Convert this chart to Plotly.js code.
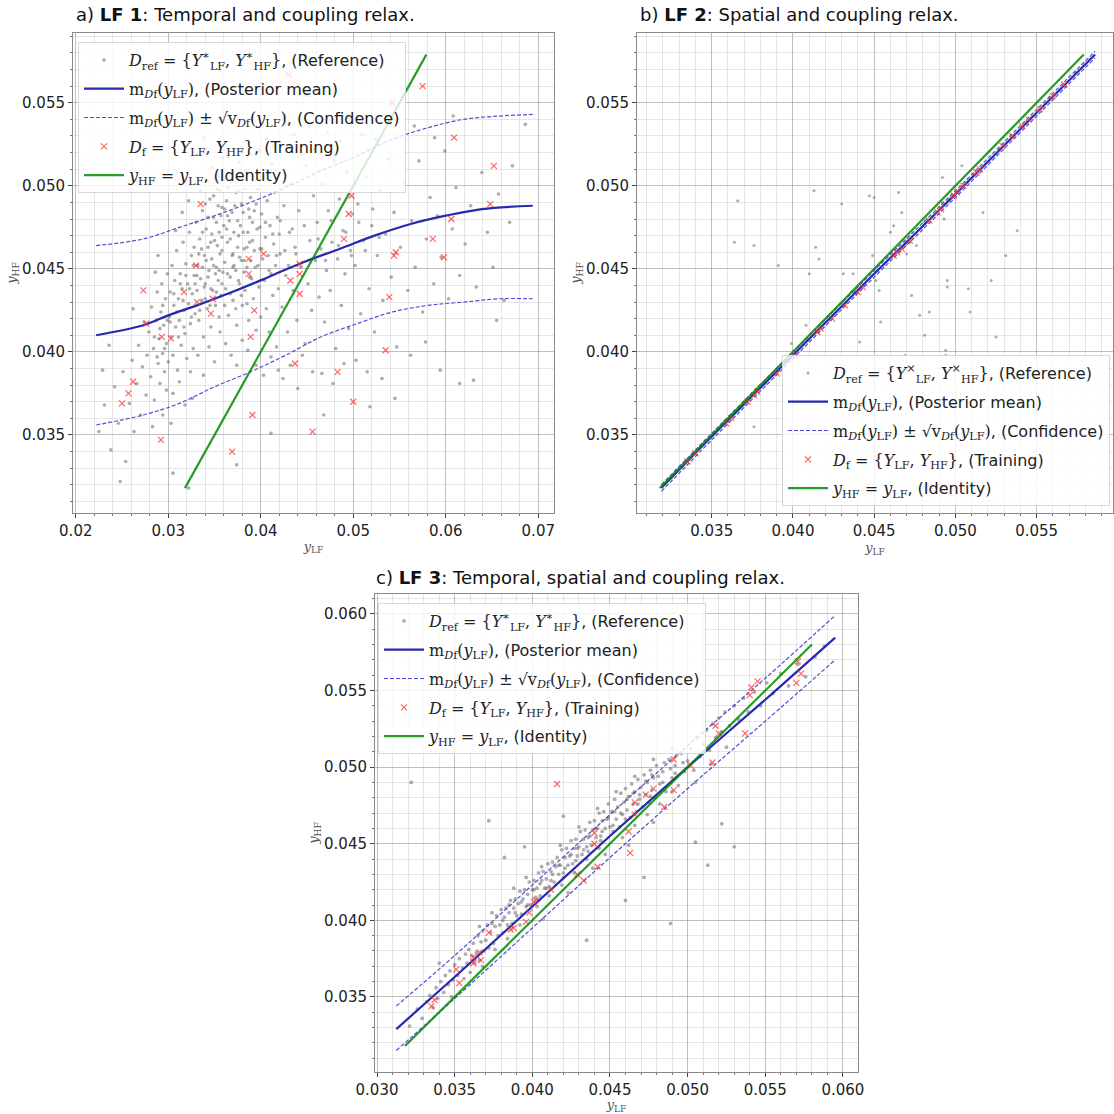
<!DOCTYPE html>
<html>
<head>
<meta charset="utf-8">
<script src="https://cdn.plot.ly/plotly-3.0.1.min.js"></script>
<style>html,body{margin:0;padding:0;background:#fff;}#chart{width:1114px;height:1114px;}</style>
</head>
<body>
<div id="chart"></div>
<script>
// ---------------- Panel a) LF 1 ----------------
const refA = [
[0.0225,0.0352],[0.0231,0.0368],[0.0238,0.0341],[0.0242,0.0379],[0.0246,0.0357],[0.0251,0.0388],[0.0254,0.0334],[0.0258,0.0369],[0.0261,0.0395],[0.0263,0.0352],[0.0266,0.0381],[0.0268,0.0404],[0.0270,0.0362],[0.0272,0.0391],[0.0274,0.0418],[0.0276,0.0374],[0.0236,0.0404],[0.0248,0.0322],[0.0229,0.0389],[0.0262,0.0426],
[0.0277,0.0398],[0.0279,0.0412],[0.0281,0.0385],[0.0282,0.0427],[0.0284,0.0402],[0.0285,0.0371],[0.0287,0.0419],[0.0288,0.0436],[0.0289,0.0393],[0.0290,0.0408],[0.0291,0.0381],[0.0292,0.0424],[0.0293,0.0441],[0.0294,0.0399],[0.0295,0.0416],[0.0296,0.0388],[0.0297,0.0432],[0.0298,0.0405],[0.0299,0.0447],[0.0300,0.0394],[0.0283,0.0355],[0.0286,0.0448],[0.0294,0.0362],[0.0298,0.0377],[0.0289,0.0458],
[0.0301,0.0421],[0.0302,0.0436],[0.0303,0.0409],[0.0304,0.0452],[0.0305,0.0398],[0.0306,0.0428],[0.0307,0.0443],[0.0308,0.0415],[0.0309,0.0461],[0.0310,0.0389],[0.0311,0.0432],[0.0312,0.0419],[0.0313,0.0447],[0.0314,0.0404],[0.0315,0.0438],[0.0316,0.0466],[0.0317,0.0425],[0.0318,0.0411],[0.0319,0.0453],[0.0320,0.0396],[0.0321,0.0441],[0.0322,0.0429],[0.0323,0.0472],[0.0324,0.0417],[0.0325,0.0458],[0.0326,0.0435],[0.0327,0.0402],[0.0328,0.0446],[0.0329,0.0423],[0.0330,0.0478],[0.0305,0.0375],[0.0312,0.0382],[0.0318,0.0368],[0.0324,0.0388],[0.0308,0.0473],[0.0315,0.0484],[0.0322,0.0491],[0.0328,0.0463],[0.0303,0.0357],[0.0326,0.0372],
[0.0331,0.0437],[0.0332,0.0452],[0.0333,0.0419],[0.0334,0.0468],[0.0335,0.0444],[0.0336,0.0431],[0.0337,0.0485],[0.0338,0.0409],[0.0339,0.0458],[0.0340,0.0441],[0.0341,0.0474],[0.0342,0.0426],[0.0343,0.0463],[0.0344,0.0449],[0.0345,0.0492],[0.0346,0.0415],[0.0347,0.0456],[0.0348,0.0437],[0.0349,0.0481],[0.0350,0.0467],[0.0351,0.0428],[0.0352,0.0451],[0.0353,0.0498],[0.0354,0.0443],[0.0355,0.0472],[0.0356,0.0459],[0.0357,0.0434],[0.0358,0.0487],[0.0359,0.0448],[0.0360,0.0476],[0.0332,0.0398],[0.0338,0.0386],[0.0344,0.0403],[0.0350,0.0394],[0.0356,0.0412],[0.0335,0.0497],[0.0342,0.0503],[0.0348,0.0511],[0.0354,0.0506],[0.0359,0.0517],[0.0336,0.0462],[0.0341,0.0455],[0.0347,0.0471],[0.0353,0.0464],[0.0357,0.0482],[0.0339,0.0439],[0.0345,0.0428],[0.0351,0.0447],[0.0355,0.0421],[0.0358,0.0469],
[0.0361,0.0454],[0.0362,0.0438],[0.0363,0.0491],[0.0364,0.0466],[0.0365,0.0422],[0.0366,0.0479],[0.0367,0.0445],[0.0368,0.0503],[0.0369,0.0458],[0.0370,0.0431],[0.0371,0.0472],[0.0372,0.0488],[0.0373,0.0449],[0.0374,0.0416],[0.0375,0.0463],[0.0376,0.0497],[0.0377,0.0441],[0.0378,0.0476],[0.0379,0.0455],[0.0380,0.0428],[0.0381,0.0484],[0.0382,0.0462],[0.0383,0.0437],[0.0384,0.0509],[0.0385,0.0451],[0.0386,0.0472],[0.0387,0.0419],[0.0388,0.0466],[0.0389,0.0493],[0.0390,0.0444],[0.0362,0.0405],[0.0368,0.0398],[0.0374,0.0392],[0.0380,0.0407],[0.0386,0.0401],[0.0365,0.0517],[0.0371,0.0522],[0.0377,0.0514],[0.0383,0.0527],[0.0389,0.0519],[0.0364,0.0482],[0.0370,0.0459],[0.0376,0.0470],[0.0382,0.0448],[0.0388,0.0481],
[0.0391,0.0467],[0.0392,0.0432],[0.0393,0.0485],[0.0394,0.0451],[0.0395,0.0413],[0.0396,0.0474],[0.0397,0.0498],[0.0398,0.0439],[0.0399,0.0462],[0.0400,0.0421],[0.0401,0.0483],[0.0402,0.0456],[0.0403,0.0505],[0.0404,0.0443],[0.0405,0.0469],[0.0406,0.0426],[0.0407,0.0491],[0.0408,0.0458],[0.0409,0.0412],[0.0410,0.0476],[0.0411,0.0447],[0.0412,0.0513],[0.0413,0.0434],[0.0414,0.0465],[0.0415,0.0496],[0.0416,0.0452],[0.0417,0.0403],[0.0418,0.0481],[0.0419,0.0438],[0.0420,0.0471],[0.0395,0.0392],[0.0403,0.0386],[0.0411,0.0397],[0.0419,0.0389],[0.0398,0.0521],[0.0406,0.0528],[0.0414,0.0524],
[0.0421,0.0459],[0.0423,0.0427],[0.0425,0.0488],[0.0427,0.0446],[0.0429,0.0412],[0.0431,0.0472],[0.0433,0.0501],[0.0435,0.0437],[0.0437,0.0463],[0.0439,0.0419],[0.0441,0.0485],[0.0443,0.0451],[0.0445,0.0398],[0.0447,0.0476],[0.0449,0.0512],[0.0451,0.0441],[0.0453,0.0467],[0.0455,0.0425],[0.0457,0.0494],[0.0459,0.0455],[0.0424,0.0384],[0.0432,0.0392],[0.0440,0.0378],[0.0448,0.0405],[0.0456,0.0388],[0.0428,0.0523],[0.0436,0.0531],[0.0444,0.0519],[0.0452,0.0536],[0.0458,0.0522],
[0.0461,0.0478],[0.0463,0.0433],[0.0465,0.0462],[0.0467,0.0501],[0.0469,0.0418],[0.0471,0.0449],[0.0473,0.0485],[0.0475,0.0437],[0.0477,0.0466],[0.0479,0.0515],[0.0481,0.0402],[0.0483,0.0456],[0.0485,0.0492],[0.0487,0.0428],[0.0489,0.0473],[0.0491,0.0447],[0.0493,0.0508],[0.0495,0.0414],[0.0497,0.0461],[0.0499,0.0483],[0.0466,0.0387],[0.0478,0.0381],[0.0490,0.0393],[0.0472,0.0532],[0.0486,0.0527],[0.0496,0.0541],
[0.0502,0.0452],[0.0505,0.0489],[0.0508,0.0423],[0.0511,0.0467],[0.0514,0.0505],[0.0517,0.0438],[0.0520,0.0476],[0.0523,0.0412],[0.0526,0.0458],[0.0529,0.0497],[0.0532,0.0431],[0.0535,0.0471],[0.0538,0.0516],[0.0541,0.0445],[0.0544,0.0484],[0.0547,0.0403],[0.0503,0.0395],[0.0515,0.0388],[0.0531,0.0384],[0.0509,0.0531],[0.0524,0.0528],[0.0539,0.0538],[0.0518,0.0367],[0.0545,0.0372],
[0.0551,0.0463],[0.0555,0.0502],[0.0559,0.0437],[0.0563,0.0479],[0.0567,0.0451],[0.0571,0.0515],[0.0575,0.0424],[0.0579,0.0468],[0.0583,0.0493],[0.0587,0.0441],[0.0591,0.0482],[0.0595,0.0457],[0.0599,0.0521],[0.0603,0.0432],[0.0607,0.0474],[0.0611,0.0499],[0.0615,0.0446],[0.0562,0.0398],[0.0578,0.0406],[0.0594,0.0389],[0.0566,0.0536],[0.0588,0.0529],[0.0608,0.0542],
[0.0621,0.0465],[0.0627,0.0488],[0.0633,0.0439],[0.0639,0.0508],[0.0645,0.0472],[0.0651,0.0451],[0.0657,0.0495],[0.0663,0.0431],[0.0669,0.0478],[0.0686,0.0537],[0.0672,0.0512],[0.0655,0.0419],[0.0630,0.0383],
[0.0305,0.0327],[0.0322,0.0318],[0.0374,0.0332],[0.0411,0.0351],[0.0615,0.0381],[0.0468,0.0362],[0.0427,0.0542],[0.0338,0.0529],
[0.0333,0.0459],[0.0337,0.0472],[0.0340,0.0489],[0.0343,0.0481],[0.0346,0.0466],[0.0349,0.0494],[0.0352,0.0478],[0.0354,0.0488],[0.0356,0.0497],[0.0358,0.0461],[0.0361,0.0486],[0.0363,0.0474],[0.0365,0.0499],[0.0367,0.0468],[0.0369,0.0484],[0.0371,0.0452],[0.0373,0.0496],[0.0375,0.0479],[0.0377,0.0457],[0.0379,0.0489],[0.0381,0.0472],[0.0383,0.0498],[0.0385,0.0463],[0.0387,0.0486],[0.0389,0.0455],[0.0391,0.0478],[0.0393,0.0461],[0.0395,0.0489],[0.0397,0.0452],[0.0399,0.0475],
[0.0331,0.0446],[0.0334,0.0425],[0.0337,0.0451],[0.0340,0.0432],[0.0343,0.0445],[0.0346,0.0438],[0.0349,0.0452],[0.0352,0.0436],[0.0355,0.0449],[0.0358,0.0441],[0.0361,0.0428],[0.0364,0.0447],[0.0367,0.0435],[0.0370,0.0451],[0.0373,0.0426],[0.0376,0.0443],[0.0379,0.0434],[0.0382,0.0455],[0.0385,0.0429],[0.0388,0.0445],
[0.0302,0.0418],[0.0306,0.0435],[0.0309,0.0424],[0.0313,0.0441],[0.0316,0.0431],[0.0319,0.0446],[0.0323,0.0438],[0.0327,0.0452],[0.0329,0.0441],[0.0311,0.0409],[0.0317,0.0415],[0.0325,0.0421],
[0.0291,0.0414],[0.0294,0.0428],[0.0296,0.0402],[0.0299,0.0419],[0.0285,0.0409],[0.0288,0.0397],
[0.0401,0.0462],[0.0405,0.0478],[0.0409,0.0449],[0.0413,0.0471],[0.0417,0.0458],[0.0421,0.0479],[0.0426,0.0461],[0.0430,0.0452],[0.0434,0.0474],[0.0438,0.0459],
[0.0462,0.0468],[0.0470,0.0455],[0.0476,0.0479],[0.0484,0.0464],[0.0492,0.0472],[0.0498,0.0458],[0.0506,0.0478],[0.0513,0.0461],[0.0521,0.0486],[0.0528,0.0469]
];
const meanA_x = [0.0222,0.0273,0.0300,0.0331,0.0369,0.0408,0.0446,0.0485,0.0523,0.0562,0.0600,0.0639,0.0694];
const meanA_y = [0.0410,0.0416,0.0422,0.0428,0.0436,0.0445,0.0454,0.0462,0.0470,0.0477,0.0482,0.0486,0.0488];
const upA_x   = [0.0222,0.0273,0.0312,0.0350,0.0389,0.0427,0.0465,0.0504,0.0542,0.0581,0.0619,0.0658,0.0694];
const upA_y   = [0.0464,0.0468,0.0475,0.0482,0.0490,0.0499,0.0509,0.0518,0.0528,0.0535,0.0540,0.0542,0.0543];
const loA_x   = [0.0222,0.0273,0.0312,0.0350,0.0389,0.0427,0.0465,0.0504,0.0542,0.0581,0.0619,0.0658,0.0694];
const loA_y   = [0.0356,0.0362,0.0369,0.0379,0.0388,0.0398,0.0409,0.0417,0.0424,0.0428,0.0430,0.0432,0.0432];
const trainA = [
[0.0575,0.0560],[0.0609,0.0529],[0.0652,0.0512],[0.0648,0.0489],[0.0606,0.0480],[0.0586,0.0468],[0.0598,0.0457],[0.0546,0.0460],[0.0544,0.0458],[0.0539,0.0433],[0.0535,0.0401],[0.0500,0.0370],[0.0483,0.0388],[0.0456,0.0352],[0.0498,0.0494],[0.0495,0.0483],[0.0490,0.0468],[0.0442,0.0453],[0.0442,0.0447],[0.0442,0.0435],[0.0432,0.0443],[0.0437,0.0393],[0.0403,0.0459],[0.0387,0.0456],[0.0387,0.0447],[0.0393,0.0425],[0.0389,0.0409],[0.0391,0.0362],[0.0369,0.0340],[0.0335,0.0489],[0.0330,0.0452],[0.0317,0.0436],[0.0331,0.0430],[0.0348,0.0432],[0.0346,0.0423],[0.0273,0.0437],[0.0276,0.0417],[0.0293,0.0409],[0.0303,0.0408],[0.0262,0.0382],[0.0257,0.0375],[0.0250,0.0369],[0.0292,0.0347],[0.0430,0.0567],[0.0449,0.0555],[0.0542,0.0550],[0.0352,0.0503]
];
const identA = [0.0318,0.0579];

// ---------------- Panel b) LF 2 ----------------
const refB = [
[0.0366,0.0491],[0.0364,0.0466],[0.0376,0.0464],[0.0391,0.0452],[0.0413,0.0497],[0.0414,0.0463],[0.0416,0.0456],[0.0410,0.0447],[0.0430,0.0489],[0.0431,0.0447],[0.0437,0.0447],[0.0436,0.0436],[0.0447,0.0494],[0.0450,0.0493],[0.0449,0.0458],[0.0451,0.0443],[0.0453,0.0437],[0.0460,0.0472],[0.0462,0.0476],[0.0465,0.0496],[0.0467,0.0484],[0.0469,0.0464],[0.0470,0.0459],[0.0472,0.0466],[0.0476,0.0464],[0.0473,0.0434],[0.0478,0.0422],[0.0481,0.0410],[0.0484,0.0424],[0.0492,0.0505],[0.0492,0.0490],[0.0493,0.0480],[0.0495,0.0443],[0.0495,0.0439],[0.0504,0.0512],[0.0508,0.0438],[0.0509,0.0424],[0.0517,0.0484],[0.0522,0.0443],[0.0525,0.0409],[0.0531,0.0458],[0.0538,0.0473],[0.0494,0.0401],[0.0469,0.0398],[0.0441,0.0406],[0.0408,0.0416],[0.0376,0.0355],[0.0399,0.0405],[0.0454,0.0418],[0.0494,0.0398],
[0.0325,0.0324],[0.0338,0.0338],[0.0351,0.0350],[0.0367,0.0366],[0.0383,0.0381],[0.0396,0.0394],[0.0409,0.0407],[0.0427,0.0424],[0.0438,0.0436],[0.0452,0.0449],[0.0469,0.0466],[0.0481,0.0478],[0.0496,0.0492],[0.0511,0.0507],[0.0527,0.0522],[0.0544,0.0539],[0.0558,0.0553],[0.0574,0.0568]
];
const meanB_x = [0.0319,0.0350,0.0400,0.0450,0.0500,0.0550,0.0586];
const meanB_y = [0.0318,0.0349,0.0398,0.0447,0.0495,0.0544,0.0579];
const upB_y   = [0.0320,0.0351,0.0400,0.0449,0.0497,0.0546,0.0581];
const loB_y   = [0.0316,0.0347,0.0396,0.0445,0.0493,0.0542,0.0577];
const trainB = [
[0.0335,0.0334],[0.0340,0.0339],[0.0359,0.0357],[0.0362,0.0360],[0.0372,0.0370],[0.0376,0.0374],[0.0378,0.0376],[0.0390,0.0387],[0.0401,0.0398],[0.0415,0.0412],[0.0417,0.0414],[0.0424,0.0420],[0.0432,0.0428],[0.0440,0.0436],[0.0443,0.0439],[0.0462,0.0458],[0.0464,0.0460],[0.0467,0.0462],[0.0472,0.0467],[0.0484,0.0479],[0.0489,0.0484],[0.0491,0.0486],[0.0499,0.0494],[0.0501,0.0496],[0.0505,0.0500],[0.0513,0.0508],[0.0515,0.0510],[0.0529,0.0524],[0.0535,0.0530],[0.0541,0.0536],[0.0545,0.0540],[0.0552,0.0546],[0.0560,0.0554],[0.0567,0.0561]
];
const identB = [0.0318,0.0579];

// ---------------- Panel c) LF 3 ----------------
const refC = [
[0.0321,0.0331],[0.0326,0.0342],[0.0329,0.0336],[0.0332,0.0347],[0.0334,0.0351],[0.0336,0.0343],[0.0338,0.0356],[0.0339,0.0349],[0.0341,0.0360],[0.0343,0.0353],[0.0344,0.0364],[0.0346,0.0358],[0.0347,0.0367],[0.0349,0.0361],[0.0350,0.0371],[0.0352,0.0364],[0.0353,0.0375],[0.0355,0.0369],[0.0356,0.0362],[0.0357,0.0378],[0.0358,0.0372],[0.0359,0.0381],[0.0360,0.0366],[0.0322,0.0490],[0.0340,0.0372],[0.0348,0.0350],
[0.0361,0.0377],[0.0362,0.0385],[0.0363,0.0372],[0.0364,0.0379],[0.0365,0.0390],[0.0366,0.0374],[0.0367,0.0386],[0.0368,0.0393],[0.0369,0.0380],[0.0370,0.0387],[0.0371,0.0397],[0.0372,0.0382],[0.0373,0.0392],[0.0374,0.0398],[0.0375,0.0385],[0.0376,0.0396],[0.0377,0.0403],[0.0378,0.0390],[0.0379,0.0397],[0.0380,0.0407],[0.0381,0.0392],[0.0382,0.0402],[0.0383,0.0408],[0.0384,0.0397],[0.0385,0.0405],[0.0386,0.0413],[0.0387,0.0398],[0.0388,0.0408],[0.0389,0.0414],[0.0390,0.0403],[0.0391,0.0411],[0.0392,0.0419],[0.0393,0.0404],[0.0394,0.0414],[0.0395,0.0420],[0.0396,0.0409],[0.0397,0.0417],[0.0398,0.0425],[0.0399,0.0410],[0.0400,0.0420],[0.0368,0.0370],[0.0376,0.0381],[0.0384,0.0388],[0.0392,0.0397],[0.0366,0.0396],[0.0374,0.0405],[0.0388,0.0421],[0.0396,0.0428],
[0.0401,0.0426],[0.0402,0.0415],[0.0403,0.0421],[0.0404,0.0431],[0.0405,0.0416],[0.0406,0.0426],[0.0407,0.0432],[0.0408,0.0421],[0.0409,0.0427],[0.0410,0.0437],[0.0411,0.0422],[0.0412,0.0432],[0.0413,0.0438],[0.0414,0.0425],[0.0415,0.0435],[0.0416,0.0441],[0.0417,0.0430],[0.0418,0.0436],[0.0419,0.0446],[0.0420,0.0431],[0.0421,0.0441],[0.0422,0.0447],[0.0423,0.0436],[0.0424,0.0442],[0.0425,0.0452],[0.0426,0.0437],[0.0427,0.0447],[0.0428,0.0453],[0.0429,0.0442],[0.0430,0.0448],[0.0431,0.0458],[0.0432,0.0443],[0.0433,0.0453],[0.0434,0.0459],[0.0435,0.0448],[0.0436,0.0454],[0.0437,0.0464],[0.0438,0.0449],[0.0439,0.0459],[0.0440,0.0465],[0.0441,0.0454],[0.0442,0.0460],[0.0443,0.0470],[0.0444,0.0455],[0.0445,0.0465],[0.0446,0.0471],[0.0447,0.0460],[0.0448,0.0466],[0.0449,0.0476],[0.0450,0.0461],
[0.0403,0.0409],[0.0411,0.0416],[0.0419,0.0423],[0.0427,0.0431],[0.0435,0.0440],[0.0443,0.0447],[0.0407,0.0401],[0.0423,0.0418],[0.0439,0.0434],[0.0447,0.0443],
[0.0451,0.0471],[0.0452,0.0458],[0.0453,0.0479],[0.0454,0.0466],[0.0455,0.0474],[0.0456,0.0461],[0.0457,0.0483],[0.0458,0.0469],[0.0459,0.0477],[0.0460,0.0486],[0.0461,0.0472],[0.0462,0.0481],[0.0463,0.0467],[0.0464,0.0489],[0.0465,0.0476],[0.0466,0.0484],[0.0467,0.0471],[0.0468,0.0492],[0.0469,0.0479],[0.0470,0.0487],[0.0471,0.0474],[0.0472,0.0495],[0.0473,0.0482],[0.0474,0.0490],[0.0475,0.0477],[0.0476,0.0498],[0.0477,0.0485],[0.0478,0.0493],[0.0479,0.0480],[0.0480,0.0501],[0.0482,0.0489],[0.0484,0.0497],[0.0486,0.0484],[0.0488,0.0505],[0.0490,0.0493],[0.0492,0.0501],[0.0494,0.0488],[0.0496,0.0509],[0.0498,0.0497],[0.0500,0.0504],
[0.0458,0.0454],[0.0466,0.0462],[0.0474,0.0469],[0.0482,0.0476],[0.0490,0.0484],[0.0462,0.0449],[0.0478,0.0464],
[0.0502,0.0512],[0.0504,0.0498],[0.0506,0.0519],[0.0508,0.0507],[0.0510,0.0515],[0.0512,0.0524],[0.0514,0.0511],[0.0516,0.0528],[0.0518,0.0519],[0.0520,0.0532],[0.0522,0.0523],[0.0524,0.0536],[0.0527,0.0527],[0.0530,0.0540],[0.0533,0.0531],[0.0536,0.0545],[0.0539,0.0536],[0.0505,0.0490],[0.0515,0.0502],[0.0525,0.0513],
[0.0543,0.0549],[0.0547,0.0540],[0.0551,0.0555],[0.0555,0.0548],[0.0560,0.0561],[0.0565,0.0553],[0.0571,0.0567],[0.0576,0.0559],[0.0582,0.0572],[0.0588,0.0579],
[0.0372,0.0465],[0.0382,0.0441],[0.0435,0.0387],[0.0460,0.0413],[0.0472,0.0428],[0.0489,0.0398],[0.0505,0.0451],[0.0513,0.0436],[0.0522,0.0463],[0.0530,0.0448],[0.0420,0.0468],[0.0395,0.0448],
[0.0381,0.0400],[0.0385,0.0410],[0.0389,0.0405],[0.0393,0.0412],[0.0397,0.0410],[0.0401,0.0420],[0.0405,0.0424],[0.0409,0.0421],[0.0413,0.0430],[0.0417,0.0436],[0.0421,0.0434],[0.0425,0.0443],[0.0429,0.0447],[0.0433,0.0446],[0.0437,0.0455],[0.0441,0.0460],[0.0445,0.0458],[0.0449,0.0467],[0.0453,0.0471],[0.0457,0.0470],[0.0461,0.0479],[0.0465,0.0483],[0.0469,0.0482],[0.0473,0.0491],[0.0477,0.0495],[0.0481,0.0494],[0.0485,0.0503],[0.0489,0.0499],[0.0493,0.0508],[0.0497,0.0503],
[0.0404,0.0413],[0.0412,0.0426],[0.0420,0.0428],[0.0428,0.0439],[0.0436,0.0445],[0.0444,0.0452],[0.0452,0.0462],[0.0460,0.0466],[0.0468,0.0476],[0.0476,0.0481],[0.0484,0.0490],[0.0492,0.0496],
[0.0406,0.0435],[0.0418,0.0449],[0.0430,0.0461],[0.0442,0.0473],[0.0454,0.0484],[0.0466,0.0494],[0.0478,0.0505],[0.0490,0.0512]
];
const meanC_x = [0.03124,0.0350,0.0400,0.0450,0.0500,0.0550,0.0595];
const meanC_y = [0.0329,0.0363,0.0409,0.0455,0.0500,0.0544,0.05845];
const upC_y   = [0.0344,0.0377,0.0423,0.0469,0.0514,0.0558,0.0599];
const loC_y   = [0.0315,0.0349,0.0395,0.0441,0.0486,0.0530,0.0570];
const trainC = [
[0.0335,0.0344],[0.0337,0.0348],[0.0353,0.0359],[0.0351,0.0368],[0.0362,0.0372],[0.0362,0.0376],[0.0366,0.0379],[0.0367,0.0374],[0.0372,0.0392],[0.0386,0.0394],[0.0388,0.0395],[0.0396,0.0399],[0.0398,0.0405],[0.0401,0.0412],[0.0402,0.0413],[0.0412,0.0420],[0.0416,0.0489],[0.0429,0.0430],[0.0433,0.0426],[0.0440,0.0457],[0.0440,0.0450],[0.0442,0.0435],[0.0462,0.0458],[0.0463,0.0444],[0.0466,0.0469],[0.0466,0.0477],[0.0473,0.0482],[0.0478,0.0486],[0.0485,0.0474],[0.0491,0.0505],[0.0491,0.0485],[0.0502,0.0501],[0.0516,0.0503],[0.0520,0.0522],[0.0518,0.0527],[0.0537,0.0522],[0.0540,0.0547],[0.0541,0.0552],[0.0545,0.0556],[0.0570,0.0555],[0.0573,0.0561],[0.0571,0.0569]
];
const identC = [0.0318,0.0580];

// ---------------- styling ----------------
const W = 1114;
const TXT = 'DejaVu Sans';
const SERIF = 'DejaVu Serif';
const cRef = 'rgba(105,105,105,0.55)';
const cMean = 'rgb(40,40,175)';
const cConf = 'rgba(60,60,210,0.9)';
const cTrain = 'rgba(255,50,50,0.75)';
const cId = 'rgba(0,140,0,0.85)';

const m = s => '<span style="font-family:' + SERIF + '">' + s + '</span>';
function names(sup) {
  return [
    m('<i>D</i><sub>ref</sub> = {<i>Y</i><sup>' + sup + '</sup><sub>LF</sub>, <i>Y</i><sup>' + sup + '</sup><sub>HF</sub>}') + ', (Reference)',
    m('m<sub><i>D</i>f</sub>(<i>y</i><sub>LF</sub>)') + ', (Posterior mean)',
    m('m<sub><i>D</i>f</sub>(<i>y</i><sub>LF</sub>) ± √v<sub><i>D</i>f</sub>(<i>y</i><sub>LF</sub>)') + ', (Confidence)',
    m('<i>D</i><sub>f</sub> = {<i>Y</i><sub>LF</sub>, <i>Y</i><sub>HF</sub>}') + ', (Training)',
    m('<i>y</i><sub>HF</sub> = <i>y</i><sub>LF</sub>') + ', (Identity)'
  ];
}

function panel(xa, ya, leg, ref, mx, my, ux, uy, lx, ly, train, ident, sup, dot) {
  const n = names(sup);
  return [
    {type:'scatter', mode:'markers', x:ref.map(p=>p[0]), y:ref.map(p=>p[1]), xaxis:xa, yaxis:ya, legend:leg, legendgroup:leg+'r',
     name:n[0], marker:{size:dot, color:cRef}},
    {type:'scatter', mode:'lines', x:mx, y:my, xaxis:xa, yaxis:ya, legend:leg, legendgroup:leg+'m', name:n[1],
     line:{color:cMean, width:2.2, shape:'spline'}},
    {type:'scatter', mode:'lines', x:ux, y:uy, xaxis:xa, yaxis:ya, legend:leg, name:n[2], legendgroup:leg+'c',
     line:{color:cConf, width:1.2, dash:'4px,2px', shape:'spline'}},
    {type:'scatter', mode:'lines', x:lx, y:ly, xaxis:xa, yaxis:ya, legend:leg, name:n[2], legendgroup:leg+'c', showlegend:false,
     line:{color:cConf, width:1.2, dash:'4px,2px', shape:'spline'}},
    {type:'scatter', mode:'markers', x:train.map(p=>p[0]), y:train.map(p=>p[1]), xaxis:xa, yaxis:ya, legend:leg, legendgroup:leg+'t', name:n[3],
     marker:{symbol:'x-thin', size:6, color:cTrain, line:{width:1.2, color:cTrain}}},
    {type:'scatter', mode:'lines', x:ident, y:ident, xaxis:xa, yaxis:ya, legend:leg, legendgroup:leg+'i', name:n[4],
     line:{color:cId, width:2.2}}
  ];
}

const data = [].concat(
  panel('x','y','legend', refA, meanA_x, meanA_y, upA_x, upA_y, loA_x, loA_y, trainA, identA, '∗', 3.6),
  panel('x2','y2','legend2', refB, meanB_x, meanB_y, meanB_x, upB_y, meanB_x, loB_y, trainB, identB, '×', 3),
  panel('x3','y3','legend3', refC, meanC_x, meanC_y, meanC_x, upC_y, meanC_x, loC_y, trainC, identC, '∗', 3.8)
);

function axis(range, dtick, minor, fmt, domain, anchor, title) {
  return {
    range: range, domain: domain, anchor: anchor, dtick: dtick, tick0: 0, tickformat: fmt,
    showgrid: true, gridcolor: 'rgba(140,140,140,0.55)', gridwidth: 1,
    zeroline: false, showline: true, mirror: true, linecolor: '#8a8a8a', linewidth: 1,
    ticks: 'outside', ticklen: 4, tickcolor: '#444', tickwidth: 1,
    tickfont: {family: TXT, size: 15, color: '#222'},
    minor: {dtick: minor, showgrid: true, gridcolor: 'rgba(200,200,200,0.45)', gridwidth: 1, ticks: 'outside', ticklen: 2, tickcolor: '#777'},
    automargin: false,
    title: {text: title, font: {family: SERIF, size: 13, color: '#555'}, standoff: 2}
  };
}
const px = v => v / W, py = v => 1 - v / W;
const xT = '<i>y</i><sub>LF</sub>', yT = '<i>y</i><sub>HF</sub>';

function legend(x, y) {
  return {x: x, y: y, xanchor: 'left', yanchor: 'top', bgcolor: 'rgba(255,255,255,0.8)',
          bordercolor: '#d8d8d8', borderwidth: 1, font: {family: TXT, size: 16, color: '#222'},
          itemwidth: 40, tracegroupgap: 5};
}

const layout = {
  width: W, height: W, margin: {l:0, r:0, t:0, b:0},
  paper_bgcolor: '#fff', plot_bgcolor: '#fff',
  xaxis:  axis([0.0197, 0.0717], 0.01, 0.002, '.2f', [px(73), px(554)], 'y', xT),
  yaxis:  axis([0.0303, 0.0592], 0.005, 0.001, '.3f', [py(513), py(33)], 'x', yT),
  xaxis2: axis([0.0304, 0.0597], 0.005, 0.001, '.3f', [px(637), px(1113)], 'y2', xT),
  yaxis2: axis([0.0303, 0.0592], 0.005, 0.001, '.3f', [py(513), py(33)], 'x2', yT),
  xaxis3: axis([0.02987, 0.06097], 0.005, 0.001, '.3f', [px(375), px(858)], 'y3', xT),
  yaxis3: axis([0.0301, 0.0613], 0.005, 0.001, '.3f', [py(1072), py(594)], 'x3', yT),
  legend:  legend(px(78), py(42)),
  legend2: legend(px(782), py(355)),
  legend3: legend(px(378), py(603)),
  annotations: [
    {xref:'paper', yref:'paper', x:px(74), y:py(15), xanchor:'left', yanchor:'middle', showarrow:false,
     text:'a) <b>LF 1</b>: Temporal and coupling relax.', font:{family:TXT, size:18, color:'#111'}},
    {xref:'paper', yref:'paper', x:px(638), y:py(15), xanchor:'left', yanchor:'middle', showarrow:false,
     text:'b) <b>LF 2</b>: Spatial and coupling relax.', font:{family:TXT, size:18, color:'#111'}},
    {xref:'paper', yref:'paper', x:px(374), y:py(577), xanchor:'left', yanchor:'middle', showarrow:false,
     text:'c) <b>LF 3</b>: Temporal, spatial and coupling relax.', font:{family:TXT, size:18, color:'#111'}}
  ],
  showlegend: true
};

Plotly.newPlot('chart', data, layout, {displayModeBar: false, staticPlot: true});
</script>
</body>
</html>
